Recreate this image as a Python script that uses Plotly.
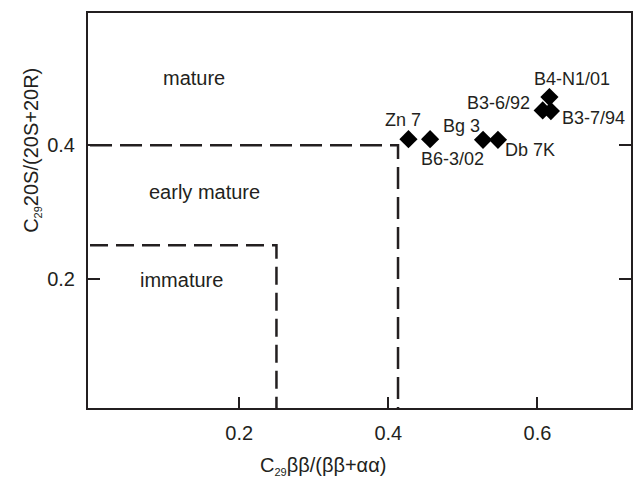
import plotly.graph_objects as go

# Data
samples = ["Zn 7", "B6-3/02", "Bg 3", "Db 7K", "B3-6/92", "B3-7/94", "B4-N1/01"]
x_bb = [0.427, 0.456, 0.527, 0.547, 0.607, 0.618, 0.616]
y_20s = [0.409, 0.409, 0.408, 0.408, 0.452, 0.451, 0.472]

mature_bx = [0.0, 0.413, 0.413]
mature_by = [0.4, 0.4, 0.0]
immature_bx = [0.0, 0.25, 0.25]
immature_by = [0.25, 0.25, 0.0]

zone_names = ["mature", "early mature", "immature"]
zone_x = [0.140, 0.153, 0.123]
zone_y = [0.500, 0.330, 0.198]

x_ticks = [0.2, 0.4, 0.6]
y_ticks = [0.2, 0.4]

# label offsets (px) relative to each point
label_dx = [-5, 22, -22, 32, -44, 43, 23]
label_dy = [19, -20, 14, -10, 7, -7, 18]

INK = "#231f20"
FONT = "Liberation Sans, Arial, sans-serif"
SUB = "<sub><span style='font-size:11px'>29</span></sub>"

fig = go.Figure()
fig.add_trace(go.Scatter(x=mature_bx, y=mature_by, mode="lines",
                         line=dict(color=INK, width=2.5, dash="22px,8px"),
                         hoverinfo="skip", showlegend=False))
fig.add_trace(go.Scatter(x=immature_bx, y=immature_by, mode="lines",
                         line=dict(color=INK, width=2.5, dash="18px,8px"),
                         hoverinfo="skip", showlegend=False))
fig.add_trace(go.Scatter(x=x_bb, y=y_20s, mode="markers",
                         marker=dict(symbol="diamond", size=14, color="black"),
                         showlegend=False))

for name, x, y, dx, dy in zip(samples, x_bb, y_20s, label_dx, label_dy):
    fig.add_annotation(x=x, y=y, text=name, showarrow=False,
                       xshift=dx, yshift=dy, xanchor="center", yanchor="middle",
                       font=dict(family=FONT, size=18, color=INK))

for name, x, y in zip(zone_names, zone_x, zone_y):
    fig.add_annotation(x=x, y=y, text=name, showarrow=False,
                       xanchor="center", yanchor="middle",
                       font=dict(family=FONT, size=20, color=INK))

fig.add_annotation(xref="paper", yref="paper", x=(324 - 88) / 545, y=-(466 - 408) / 396,
                   text="C" + SUB + "ββ/(ββ+αα)", showarrow=False,
                   xanchor="center", yanchor="middle",
                   font=dict(family=FONT, size=20, color=INK))
fig.add_annotation(xref="paper", yref="paper", x=-(88 - 31) / 545, y=(408 - 150) / 396,
                   text="C" + SUB + "20S/(20S+20R)", showarrow=False, textangle=-90,
                   xanchor="center", yanchor="middle",
                   font=dict(family=FONT, size=20, color=INK))

fig.update_xaxes(range=[-0.0027, 0.7254], tickvals=x_ticks, ticktext=[f"{v:.1f}" for v in x_ticks],
                 ticks="inside", ticklen=11, tickwidth=2, tickcolor=INK,
                 showline=True, linecolor=INK, linewidth=2, mirror=True,
                 showgrid=False, zeroline=False,
                 tickfont=dict(family=FONT, size=20, color=INK), ticklabelstandoff=6)
fig.update_yaxes(range=[0.0061, 0.598], tickvals=y_ticks, ticktext=[f"{v:.1f}" for v in y_ticks],
                 ticks="inside", ticklen=12, tickwidth=2, tickcolor=INK,
                 showline=True, linecolor=INK, linewidth=2, mirror="ticks",
                 showgrid=False, zeroline=False,
                 tickfont=dict(family=FONT, size=20, color=INK), ticklabelstandoff=7)

fig.update_layout(width=634, height=480,
                  margin=dict(l=88, r=1, t=13, b=72),
                  paper_bgcolor="white", plot_bgcolor="white",
                  font=dict(family=FONT, color=INK))

fig.write_html("out.html")
